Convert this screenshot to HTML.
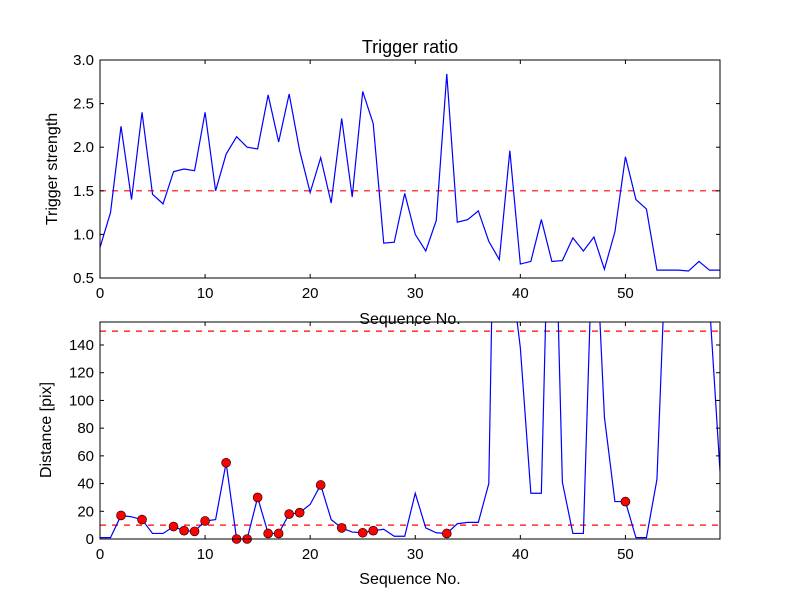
<!DOCTYPE html>
<html><head><meta charset="utf-8"><style>body{margin:0;background:#fff}svg{display:block;font-family:"Liberation Sans",sans-serif}</style></head>
<body>
<svg id="c" width="800" height="600"></svg>
<script>
const seq = Array.from({length:60},(_,i)=>i);
const strength = [0.85,1.25,2.24,1.40,2.40,1.46,1.35,1.72,1.75,1.73,2.40,1.50,1.92,2.12,2.00,1.98,2.60,2.06,2.61,1.96,1.48,1.88,1.36,2.33,1.43,2.64,2.27,0.90,0.91,1.47,1.00,0.81,1.16,2.84,1.14,1.17,1.27,0.92,0.71,1.96,0.66,0.69,1.17,0.69,0.70,0.96,0.81,0.97,0.60,1.03,1.89,1.40,1.29,0.59,0.59,0.59,0.58,0.69,0.59,0.59];
const distance = [1,1,17,16,14,4,4,9,6,5.5,13,14,55,0,0,30,4,4,18,19,25,39,14,8,5,4.5,6,7,2,2,33,8,4.5,4,11,12,12,40,480,200,138,33,33,340,41,4,4,250,88,27,27,1,1,43,240,300,300,300,170,49];
const markedIdx = [2,4,7,8,9,10,12,13,14,15,16,17,18,19,21,23,25,26,33,50];
const strengthThreshold = 1.5;
const distThresholds = [10,150];
const topYTicks = [0.5,1.0,1.5,2.0,2.5,3.0];
const botYTicks = [0,20,40,60,80,100,120,140];
const xTicks = [0,10,20,30,40,50];

const svg=document.getElementById('c');const NS='http://www.w3.org/2000/svg';
function mk(t,a,p){const e=document.createElementNS(NS,t);for(const k in a)e.setAttribute(k,a[k]);(p||svg).appendChild(e);return e;}
const X0=100,X1=720;
function panel(y0,y1,ymin,ymax,name){
  const g=mk('g',{});
  
  
  const sx=v=>X0+(v-0)/(59-0)*(X1-X0);
  const sy=v=>y1-(v-ymin)/(ymax-ymin)*(y1-y0);
  const cid='clip'+name;
  const cp=mk('clipPath',{id:cid},g);mk('rect',{x:X0,y:y0,width:X1-X0,height:y1-y0},cp);
  return {g,sx,sy,cid,y0,y1};
}
function frame(p,yt,fmt,axname){
  const {g,sx,sy,y0,y1}=p;
  xTicks.forEach(t=>{const x=sx(t);
    mk('line',{x1:x,x2:x,y1:y1,y2:y1-4,stroke:'#000'},g);mk('line',{x1:x,x2:x,y1:y0,y2:y0+4,stroke:'#000'},g);
    const tx=mk('text',{x:x,y:y1+20,'font-size':15,'text-anchor':'middle'},g);tx.textContent=t;
    
    });
  yt.forEach(t=>{const y=sy(t);
    mk('line',{x1:X0,x2:X0+4,y1:y,y2:y,stroke:'#000'},g);mk('line',{x1:X1,x2:X1-4,y1:y,y2:y,stroke:'#000'},g);
    const tx=mk('text',{x:X0-6,y:y+5,'font-size':15,'text-anchor':'end'},g);tx.textContent=fmt(t);
    
    });
  const r=mk('rect',{x:X0,y:y0,width:X1-X0,height:y1-y0,fill:'none',stroke:'#000','stroke-width':1},g);
  
  
}
// top
const A=panel(60,278,0.5,3.0,'top-panel');
const hl=mk('line',{x1:X0,x2:X1,y1:A.sy(strengthThreshold),y2:A.sy(strengthThreshold),stroke:'#f00','stroke-dasharray':'6,6','stroke-width':1.2},A.g);


const l1=mk('polyline',{points:seq.map(i=>A.sx(i)+','+A.sy(strength[i])).join(' '),fill:'none',stroke:'#00f','stroke-width':1.2,'clip-path':'url(#'+A.cid+')'},A.g);


frame(A,topYTicks,t=>t.toFixed(1),'y-top');
let t=mk('text',{x:410,y:53,'font-size':18,'text-anchor':'middle'});t.textContent='Trigger ratio';


t=mk('text',{x:410,y:324,'font-size':16,'text-anchor':'middle'});t.textContent='Sequence No.';


t=mk('text',{x:0,y:0,'font-size':16,'text-anchor':'middle',transform:'translate(57,169) rotate(-90)'});t.textContent='Trigger strength';


// bottom
const B=panel(322,539,0,156.6,'bottom-panel');
distThresholds.forEach(v=>{const l=mk('line',{x1:X0,x2:X1,y1:B.sy(v),y2:B.sy(v),stroke:'#f00','stroke-dasharray':'6,6','stroke-width':1.2},B.g);
  
  });
const l2=mk('polyline',{points:seq.map(i=>B.sx(i)+','+B.sy(distance[i])).join(' '),fill:'none',stroke:'#00f','stroke-width':1.2,'clip-path':'url(#'+B.cid+')'},B.g);


const mg=mk('g',{},B.g);
markedIdx.forEach(i=>{const c=mk('circle',{cx:B.sx(i),cy:B.sy(distance[i]),r:4.5,fill:'#f00',stroke:'#000','stroke-width':0.6},mg);
  
  });
frame(B,botYTicks,t=>t,'y-bottom');
t=mk('text',{x:410,y:584,'font-size':16,'text-anchor':'middle'});t.textContent='Sequence No.';


t=mk('text',{x:0,y:0,'font-size':16,'text-anchor':'middle',transform:'translate(51,430) rotate(-90)'});t.textContent='Distance [pix]';


</script>
</body></html>
